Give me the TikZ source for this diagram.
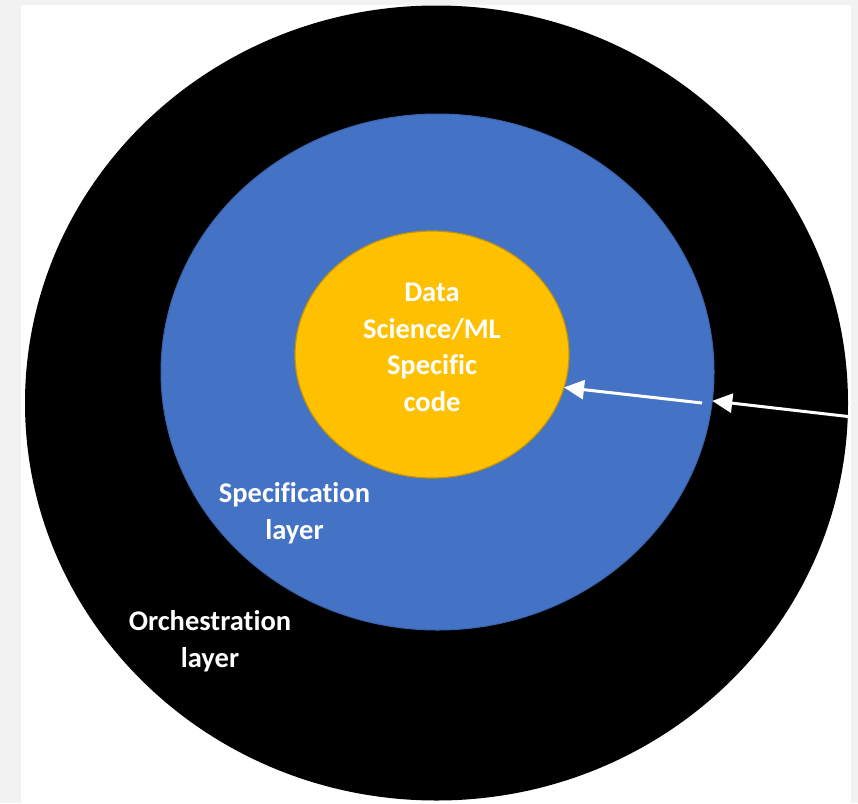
\documentclass[tikz,border=0pt]{standalone}
\usepackage{fontspec}
\setmainfont{Carlito}[Ligatures=NoCommon]
\usetikzlibrary{arrows.meta,shapes.geometric}

\definecolor{pagegray}{HTML}{F2F2F2}
\definecolor{specblue}{HTML}{4472C4}
\definecolor{specedge}{HTML}{3A63AE}
\definecolor{codeorange}{HTML}{FFC000}
\definecolor{codeedge}{HTML}{C0920C}

\tikzset{
  layer/.style={ellipse, inner sep=0pt, outer sep=0pt},
  layertext/.style={white, align=center, inner sep=0pt,
    font=\bfseries\fontsize{28.5}{36.7}\selectfont},
  inward/.style={white, line width=3pt,
    -{Triangle[length=20pt,width=19pt]}}
}

\begin{document}
\begin{tikzpicture}[x=1pt,y=-1pt]
\fill [pagegray] (0,0) rectangle (858,803);
\fill [white] (21,5) rectangle (851,803);
\useasboundingbox (0,0) rectangle (858,803);

% the three layers
\node [layer, fill=black, minimum width=823pt, minimum height=795pt] (orch) at (436.5,403) {};
\node [layer, fill=specblue, draw=specedge, line width=1pt, minimum width=553pt, minimum height=516pt] (spec) at (437.5,372) {};
\node [layer, fill=codeorange, draw=codeedge, line width=1.2pt, minimum width=274pt, minimum height=247pt] (core) at (432,354.5) {};

% labels
\node [layertext] (coretext) at (432,347.5) {Data\\Science/ML\\Specific\\code};
\node [layertext] (spectext) at (294.5,513.5) {Specification\\layer};
\node [layertext] (orchtext) at (210,641) {Orchestration\\layer};

% arrows
\coordinate (outside) at (848,416.5);
\coordinate (inside) at (702,403);
\draw [inward] (outside) -- (spec.-6.4);
\draw [inward] (inside) -- (core.-14.4);
\end{tikzpicture}
\end{document}
